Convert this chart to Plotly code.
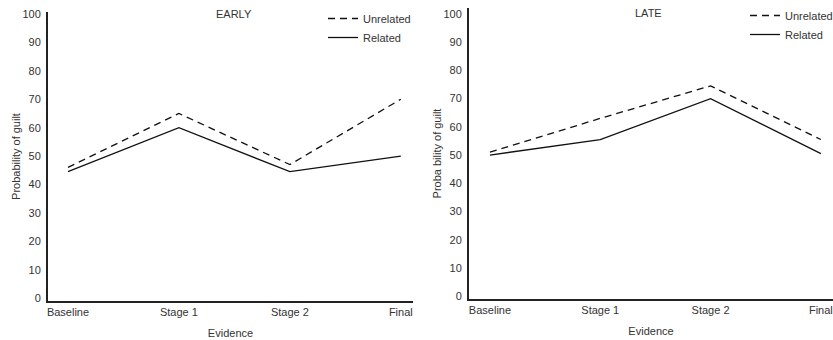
import plotly.graph_objects as go

stages = ["Baseline", "Stage 1", "Stage 2", "Final"]
early_unrelated = [46, 65, 47, 70]
early_related = [44.5, 60, 44.5, 50]
late_unrelated = [51, 63, 74.5, 55.5]
late_related = [50, 55.5, 70, 50.5]
y_ticks = [0, 10, 20, 30, 40, 50, 60, 70, 80, 90, 100]

FONT = dict(family="Liberation Sans, Arial, sans-serif", size=11, color="#333")
xs = list(range(len(stages)))

fig = go.Figure()
for xa, ya, un, rel, lg in [("x", "y", early_unrelated, early_related, "legend"),
                            ("x2", "y2", late_unrelated, late_related, "legend2")]:
    fig.add_trace(go.Scatter(x=xs, y=un, mode="lines", name="Unrelated",
                             line=dict(color="#111", width=1.3, dash="7px,5px"),
                             xaxis=xa, yaxis=ya, legend=lg))
    fig.add_trace(go.Scatter(x=xs, y=rel, mode="lines", name="Related",
                             line=dict(color="#111", width=1.3),
                             xaxis=xa, yaxis=ya, legend=lg))

W, H = 833, 340
xcommon = dict(tickmode="array", tickvals=xs, ticktext=stages, showgrid=False, zeroline=False,
               showline=True, linecolor="#222", linewidth=2, ticks="", tickfont=FONT,
               ticklabelstandoff=0, automargin=False,
               title=dict(text="Evidence", font=FONT, standoff=12), fixedrange=True)
ycommon = dict(tickmode="array", tickvals=y_ticks, showgrid=False, zeroline=False,
               showline=True, linecolor="#222", linewidth=2, ticks="", tickfont=FONT,
               ticklabelstandoff=3, automargin=False, fixedrange=True)

fig.update_layout(
    width=W, height=H, autosize=False,
    margin=dict(l=0, r=0, t=0, b=0, pad=0, autoexpand=False),
    paper_bgcolor="white", plot_bgcolor="white", font=FONT,
    xaxis=dict(xcommon, domain=[48 / W, 413 / W], range=[-0.18, 3.11], anchor="y"),
    yaxis=dict(ycommon, domain=[(H - 301) / H, (H - 12) / H], range=[-1.0, 100.7], anchor="x",
               title=dict(text="Probability of guilt", font=FONT, standoff=0)),
    xaxis2=dict(xcommon, domain=[469 / W, 1.0], range=[-0.19, 3.11], anchor="y2"),
    yaxis2=dict(ycommon, domain=[(H - 299) / H, (H - 8) / H], range=[-1.0, 102.1], anchor="x2",
                title=dict(text="Proba bility of guilt", font=FONT, standoff=0)),
    legend=dict(x=323 / W, y=1 - 4 / H, xanchor="left", yanchor="top", font=FONT,
                bgcolor="rgba(0,0,0,0)", tracegroupgap=0, itemwidth=30),
    legend2=dict(x=745 / W, y=1 - 1 / H, xanchor="left", yanchor="top", font=FONT,
                 bgcolor="rgba(0,0,0,0)", tracegroupgap=0, itemwidth=30),
    annotations=[
        dict(text="EARLY", x=234 / W, y=1 - 14 / H, xref="paper", yref="paper",
             showarrow=False, font=FONT, xanchor="center", yanchor="middle"),
        dict(text="LATE", x=648 / W, y=1 - 13 / H, xref="paper", yref="paper",
             showarrow=False, font=FONT, xanchor="center", yanchor="middle"),
    ],
)

fig.write_html("out.html", config={"responsive": False})
